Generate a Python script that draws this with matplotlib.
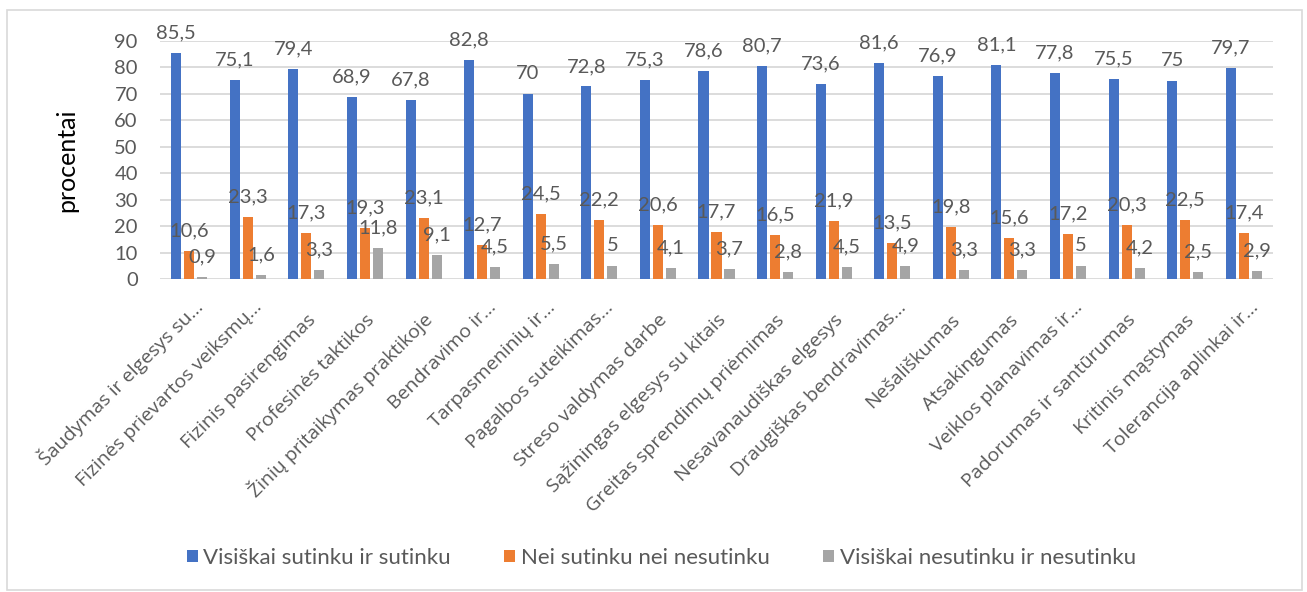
import matplotlib
matplotlib.use("Agg")
import matplotlib.pyplot as plt
import matplotlib.transforms as mtransforms
from matplotlib.patches import Rectangle, Patch
import numpy as np

categories = [
    "Šaudymas ir elgesys su…",
    "Fizinės prievartos veiksmų…",
    "Fizinis pasirengimas",
    "Profesinės taktikos",
    "Žinių pritaikymas praktikoje",
    "Bendravimo ir…",
    "Tarpasmeninių ir…",
    "Pagalbos suteikimas…",
    "Streso valdymas darbe",
    "Sąžiningas elgesys su kitais",
    "Greitas sprendimų priėmimas",
    "Nesavanaudiškas elgesys",
    "Draugiškas bendravimas…",
    "Nešališkumas",
    "Atsakingumas",
    "Veiklos planavimas ir…",
    "Padorumas ir santūrumas",
    "Kritinis mąstymas",
    "Tolerancija aplinkai ir…",
]

agree = [85.5, 75.1, 79.4, 68.9, 67.8, 82.8, 70, 72.8, 75.3, 78.6,
         80.7, 73.6, 81.6, 76.9, 81.1, 77.8, 75.5, 75, 79.7]
neutral = [10.6, 23.3, 17.3, 19.3, 23.1, 12.7, 24.5, 22.2, 20.6, 17.7,
           16.5, 21.9, 13.5, 19.8, 15.6, 17.2, 20.3, 22.5, 17.4]
disagree = [0.9, 1.6, 3.3, 11.8, 9.1, 4.5, 5.5, 5, 4.1, 3.7,
            2.8, 4.5, 4.9, 3.3, 3.3, 5, 4.2, 2.5, 2.9]

series_names = [
    "Visiškai sutinku ir sutinku",
    "Nei sutinku nei nesutinku",
    "Visiškai nesutinku ir nesutinku",
]
y_ticks = [0, 10, 20, 30, 40, 50, 60, 70, 80, 90]

colors = ["#4472C4", "#ED7D31", "#A5A5A5"]
text_color = "#595959"
grid_color = "#D9D9D9"
num_font = ["Lato", "DejaVu Sans"]
cat_font = ["Open Sans", "DejaVu Sans"]

W, H = 1307, 592
fig = plt.figure(figsize=(W / 100, H / 100), dpi=100)
ax = fig.add_axes([160 / W, 1 - 279 / H, (1273 - 160) / W, (279 - 41) / H])

# chart area border
fig.patches.append(Rectangle((7 / W, 2 / H), (1302 - 7) / W, (580) / H,
                             transform=fig.transFigure, fill=False,
                             edgecolor=grid_color, linewidth=1.2, zorder=0))

x = np.arange(len(categories))
bar_w = 0.172
step = 0.222
all_series = [agree, neutral, disagree]


def fmt(v):
    s = f"{v:.1f}".rstrip("0").rstrip(".")
    return s.replace(".", ",")


for i, (vals, col, name) in enumerate(zip(all_series, colors, series_names)):
    pos = x + (i - 1) * step
    ax.bar(pos, vals, width=bar_w, color=col, label=name, zorder=3)
    for xp, v in zip(pos, vals):
        ax.annotate(fmt(v), xy=(xp, v), xytext=(0, 10.5), textcoords="offset points",
                    ha="center", va="baseline", fontsize=14.5, color=text_color,
                    family=num_font, annotation_clip=False, zorder=4)

ax.set_xlim(-0.5, len(categories) - 0.5)
ax.set_ylim(0, 90)
ax.set_yticks(y_ticks)
ax.set_yticklabels([str(t) for t in y_ticks], family=num_font, fontsize=14.5,
                   color=text_color)
ax.yaxis.grid(True, color=grid_color, linewidth=1.3, zorder=0)
ax.set_axisbelow(True)
for sp in ax.spines.values():
    sp.set_visible(False)
ax.tick_params(axis="y", length=0, pad=16)
ax.tick_params(axis="x", length=0, pad=42 * 0.72)

ax.set_xticks(x)
ax.set_xticklabels(categories, rotation=45, ha="right", va="baseline",
                   rotation_mode="anchor", family=cat_font, fontsize=14,
                   color=text_color)
# truncated labels sit a little higher and further right
for lbl in ax.get_xticklabels():
    dx, dy = 10, 0
    if lbl.get_text().endswith("…"):
        dx, dy = 15, 13
    off = mtransforms.ScaledTranslation(dx / 100, dy / 100, fig.dpi_scale_trans)
    lbl.set_transform(lbl.get_transform() + off)

ax.set_ylabel("procentai", family=num_font, fontsize=18, color="#000000",
              labelpad=26)

handles = [Patch(facecolor=c, edgecolor="none") for c in colors]
fig.legend(handles, series_names, loc="center", bbox_to_anchor=(0.506, 1 - 558 / H),
           ncol=3, frameon=False, handlelength=0.5, handleheight=0.5,
           handletextpad=0.25, columnspacing=2.4,
           prop={"family": num_font, "size": 16}, labelcolor=text_color)

fig.savefig("out.png", dpi=100)
